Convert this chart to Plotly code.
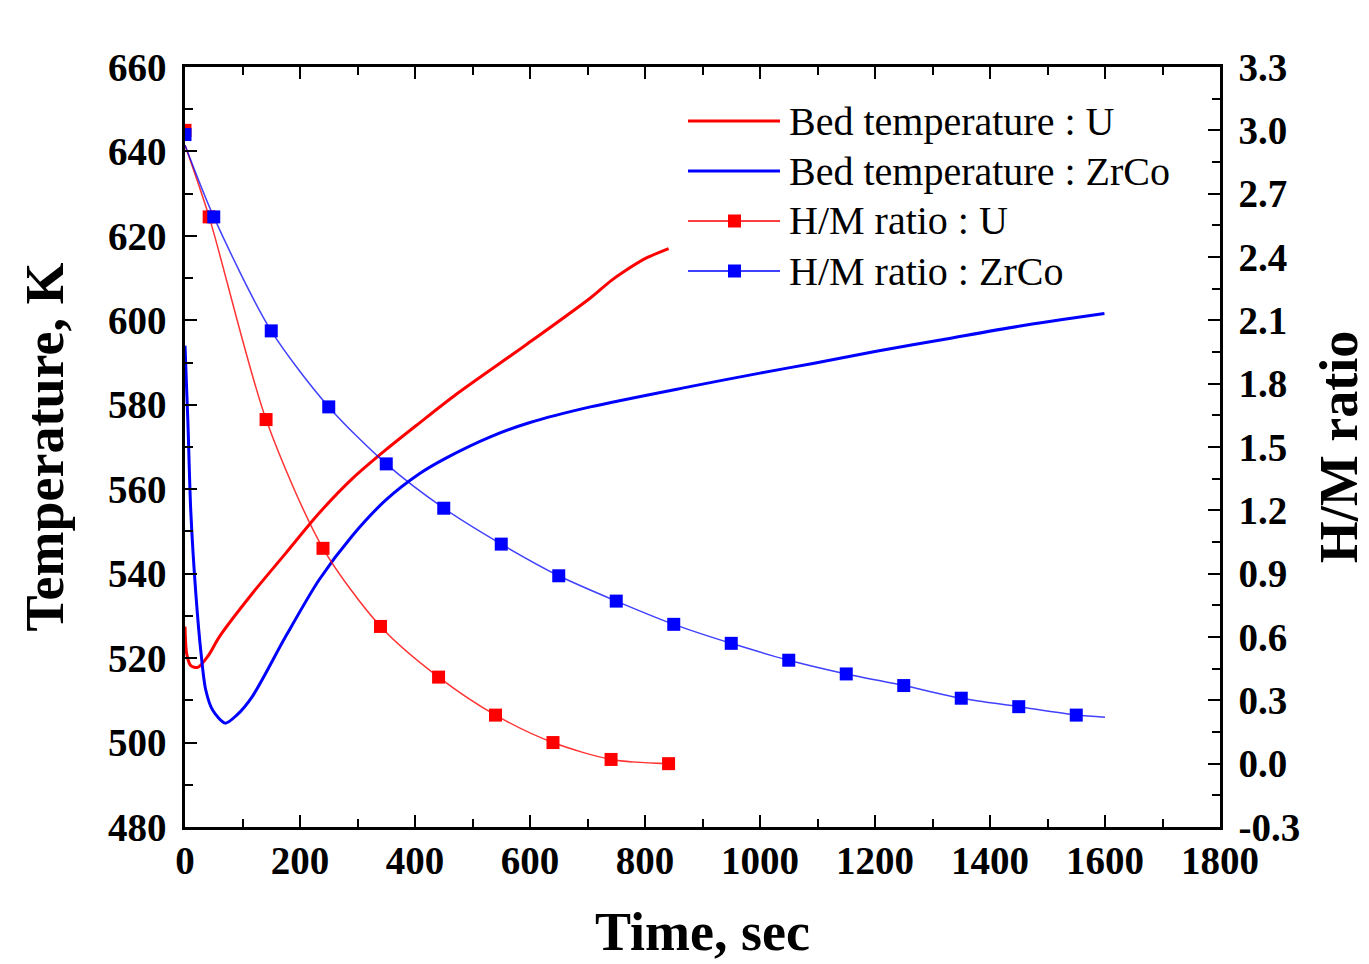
import plotly.graph_objects as go

# ---------------- data ----------------
bed_u_t = [0, 3, 10, 22, 40, 60, 117, 175, 233, 291, 349, 407, 473, 589, 705, 740, 763, 800, 841]
bed_u_T = [527.5, 521.0, 518.2, 517.8, 520.5, 525.1, 535.3, 544.8, 554.3, 562.5, 569.3,
           575.6, 582.6, 593.8, 605.3, 609.3, 611.5, 614.6, 617.0]

bed_zr_t = [0, 5, 10, 19, 28, 36, 48, 70, 90, 117, 175, 233, 291, 349, 407, 453, 531,
            600, 705, 878, 1000, 1092, 1200, 1324, 1450, 1599]
bed_zr_T = [594.0, 576.0, 555.0, 535.0, 521.0, 512.5, 507.7, 504.6, 506.5, 510.9, 525.1,
            538.5, 549.0, 557.4, 563.6, 567.3, 572.4, 575.8, 579.5, 584.3, 587.5, 589.8,
            592.6, 595.6, 598.6, 601.6]

hm_u_t = [0, 42, 141, 240, 340, 441, 540, 640, 741, 841]
hm_u = [3.0, 2.59, 1.63, 1.02, 0.65, 0.41, 0.23, 0.10, 0.02, 0.0]

hm_zr_t = [0, 50, 150, 250, 350, 450, 550, 650, 750, 850, 950, 1050, 1150, 1250, 1350,
           1450, 1550]
hm_zr = [2.98, 2.59, 2.05, 1.69, 1.42, 1.21, 1.04, 0.89, 0.77, 0.66, 0.57, 0.49, 0.425,
         0.37, 0.31, 0.27, 0.23]

# H/M curve lines (start slightly below the t=0 marker; ZrCo line runs to 1600 s)
hm_u_line_t = [0] + hm_u_t[1:]
hm_u_line = [2.93] + hm_u[1:]
hm_zr_line_t = [0] + hm_zr_t[1:] + [1600]
hm_zr_line = [2.93] + hm_zr[1:] + [0.22]

legend_labels = ["Bed temperature : U", "Bed temperature : ZrCo",
                 "H/M ratio : U", "H/M ratio : ZrCo"]

RED = "#FF0000"
BLUE = "#0000FF"
FONT = "Liberation Serif"

# ---------------- figure ----------------
# The page adds an 8 px body margin, so the figure is drawn 8 px smaller
# and everything is placed 8 px up/left of the target window position.
OFF = 8
W, H = 1369 - OFF, 964 - OFF
L, R, T, B = 185 - OFF, 1220 - OFF, 67 - OFF, 827 - OFF

fig = go.Figure()

fig.add_trace(go.Scatter(x=bed_u_t, y=bed_u_T, mode="lines", name=legend_labels[0],
                         line=dict(color=RED, width=3, shape="spline", smoothing=0.8),
                         showlegend=False))
fig.add_trace(go.Scatter(x=bed_zr_t, y=bed_zr_T, mode="lines", name=legend_labels[1],
                         line=dict(color=BLUE, width=3, shape="spline", smoothing=0.8),
                         showlegend=False))

fig.add_trace(go.Scatter(x=hm_u_line_t, y=hm_u_line, mode="lines", yaxis="y2",
                         line=dict(color="rgba(255,0,0,0.8)", width=1.5, shape="spline", smoothing=0.8),
                         showlegend=False))
fig.add_trace(go.Scatter(x=hm_zr_line_t, y=hm_zr_line, mode="lines", yaxis="y2",
                         line=dict(color="rgba(0,0,255,0.75)", width=1.5, shape="spline", smoothing=0.8),
                         showlegend=False))
fig.add_trace(go.Scatter(x=hm_u_t, y=hm_u, mode="markers", yaxis="y2", name=legend_labels[2],
                         marker=dict(symbol="square", size=13, color=RED),
                         showlegend=False))
fig.add_trace(go.Scatter(x=hm_zr_t, y=hm_zr, mode="markers", yaxis="y2", name=legend_labels[3],
                         marker=dict(symbol="square", size=13, color=BLUE),
                         showlegend=False))

# ---------------- custom legend (paper coords, window pixel positions) ----------------
def px(xp):
    return (xp - OFF - L) / (R - L)

def py(yp):
    return (B - (yp - OFF)) / (B - T)

rows = [121, 171, 221, 271]
styles = [(RED, 3, False), (BLUE, 3, False), (RED, 1.5, True), (BLUE, 1.5, True)]
shapes = []
annotations = []
for yrow, (col, lw, mark), lab in zip(rows, styles, legend_labels):
    shapes.append(dict(type="line", xref="paper", yref="paper",
                       x0=px(688), x1=px(780), y0=py(yrow), y1=py(yrow),
                       line=dict(color=col, width=lw)))
    if mark:
        shapes.append(dict(type="rect", xref="paper", yref="paper",
                           x0=px(728), x1=px(741), y0=py(yrow + 6.5), y1=py(yrow - 6.5),
                           fillcolor=col, line=dict(width=0)))
    annotations.append(dict(text=lab, xref="paper", yref="paper", x=px(787), y=py(yrow),
                            xanchor="left", yanchor="middle", showarrow=False,
                            font=dict(family=FONT, size=40, color="black")))

tickfont = dict(family=FONT, size=39, color="black", weight="bold")
titlefont = dict(family=FONT, size=54, color="black", weight="bold")

fig.update_layout(
    width=W, height=H,
    margin=dict(l=L, r=W - R, t=T, b=H - B),
    paper_bgcolor="white", plot_bgcolor="white",
    showlegend=False,
    shapes=shapes,
    annotations=annotations,
    xaxis=dict(
        range=[0, 1800], tickmode="linear", tick0=0, dtick=200,
        ticks="inside", ticklen=12, tickwidth=2, tickcolor="black",
        minor=dict(dtick=100, ticks="inside", ticklen=8, tickwidth=2, tickcolor="black"),
        showline=True, linecolor="black", linewidth=2.5, mirror="ticks",
        showgrid=False, zeroline=False, automargin=False,
        tickfont=tickfont, ticklabelstandoff=-3,
        title=dict(text="Time, sec", font=titlefont, standoff=32),
    ),
    yaxis=dict(
        range=[480, 660], tickmode="linear", tick0=480, dtick=20,
        ticks="inside", ticklen=12, tickwidth=2, tickcolor="black",
        minor=dict(dtick=10, ticks="inside", ticklen=8, tickwidth=2, tickcolor="black"),
        showline=True, linecolor="black", linewidth=2.5, mirror=True,
        showgrid=False, zeroline=False, automargin=False,
        tickfont=tickfont, ticklabelstandoff=8,
        title=dict(text="Temperature, K", font=titlefont, standoff=28),
    ),
    yaxis2=dict(
        range=[-0.3, 3.3], tickmode="array",
        tickvals=[-0.3, 0.0, 0.3, 0.6, 0.9, 1.2, 1.5, 1.8, 2.1, 2.4, 2.7, 3.0, 3.3],
        ticktext=["-0.3", "0.0", "0.3", "0.6", "0.9", "1.2", "1.5", "1.8", "2.1", "2.4",
                  "2.7", "3.0", "3.3"],
        overlaying="y", side="right",
        ticks="inside", ticklen=12, tickwidth=2, tickcolor="black",
        minor=dict(tickvals=[-0.15, 0.15, 0.45, 0.75, 1.05, 1.35, 1.65, 1.95, 2.25, 2.55,
                             2.85, 3.15],
                   ticks="inside", ticklen=8, tickwidth=2, tickcolor="black"),
        showline=True, linecolor="black", linewidth=2.5,
        showgrid=False, zeroline=False, automargin=False,
        tickfont=tickfont, ticklabelstandoff=8,
        title=dict(text="H/M ratio", font=titlefont, standoff=30),
    ),
)

fig.write_html("out.html")
